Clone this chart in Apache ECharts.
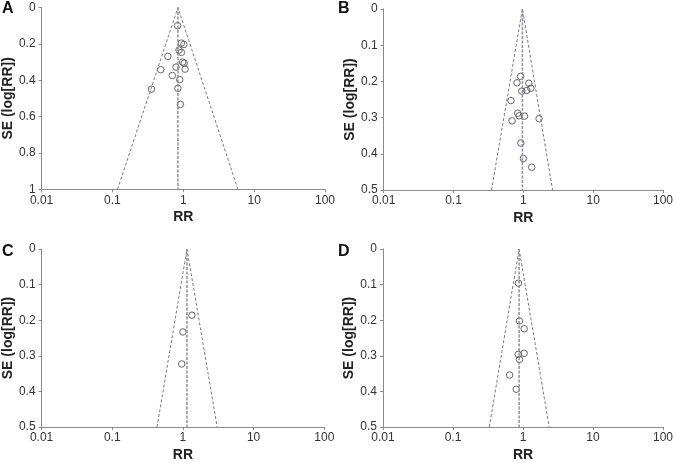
<!DOCTYPE html>
<html>
<head>
<meta charset="utf-8">
<script src="https://cdn.jsdelivr.net/npm/echarts@6/dist/echarts.min.js"></script>
<style>html,body{margin:0;padding:0;background:#fff}#c{width:676px;height:463px}</style>
</head>
<body>
<div id="c"></div>
<script>
// Panel A
var rrA = [0.83, 0.94, 1.02, 0.87, 0.94, 0.605, 0.98, 1.03, 0.79, 1.06, 0.48, 0.70, 0.89, 0.356, 0.84, 0.91];
var seA = [0.10, 0.196, 0.203, 0.234, 0.247, 0.269, 0.300, 0.306, 0.328, 0.339, 0.342, 0.374, 0.397, 0.449, 0.445, 0.533];
var pooledA = 0.84, funnelA = [0.118, 5.9], maxSeA = 1;
// Panel B
var rrB = [0.91, 0.81, 1.20, 1.28, 1.12, 0.95, 0.665, 0.83, 0.87, 1.04, 1.68, 0.69, 0.92, 1.0, 1.32];
var seB = [0.186, 0.204, 0.205, 0.219, 0.225, 0.227, 0.253, 0.288, 0.295, 0.296, 0.303, 0.309, 0.370, 0.413, 0.437];
var pooledB = 0.97, funnelB = [0.35, 2.62], maxSeB = 0.5;
// Panel C
var rrC = [1.34, 1.0, 0.96];
var seC = [0.186, 0.233, 0.323];
var pooledC = 1.14, funnelC = [0.43, 3.05], maxSeC = 0.5;
// Panel D
var rrD = [0.86, 0.89, 1.04, 1.04, 0.855, 0.89, 0.644, 0.80];
var seD = [0.096, 0.202, 0.224, 0.293, 0.296, 0.310, 0.354, 0.394];
var pooledD = 0.88, funnelD = [0.33, 2.37], maxSeD = 0.5;

var xTickLabels = ['0.01', '0.1', '1', '10', '100'];
var yTicksA = ['0', '0.2', '0.4', '0.6', '0.8', '1'];
var yTicksB = ['0', '0.1', '0.2', '0.3', '0.4', '0.5'];
var panelLetters = ['A', 'B', 'C', 'D'];

var FONT = 'Liberation Sans, Arial, sans-serif';
var grids = [
  {left: 40.7, top: 7.5, width: 284.3, height: 181.8},
  {left: 383.7, top: 9, width: 282.3, height: 181},
  {left: 40.3, top: 249, width: 284, height: 181.7},
  {left: 383, top: 249, width: 283, height: 181.7}
];
var panels = [
  {rr: rrA, se: seA, pooled: pooledA, funnel: funnelA, maxSe: maxSeA, ticks: yTicksA, interval: 0.2},
  {rr: rrB, se: seB, pooled: pooledB, funnel: funnelB, maxSe: maxSeB, ticks: yTicksB, interval: 0.1},
  {rr: rrC, se: seC, pooled: pooledC, funnel: funnelC, maxSe: maxSeC, ticks: yTicksB, interval: 0.1},
  {rr: rrD, se: seD, pooled: pooledD, funnel: funnelD, maxSe: maxSeD, ticks: yTicksB, interval: 0.1}
];
var axisColor = '#8a8a8a';
var xAxes = [], yAxes = [], series = [], graphics = [];
panels.forEach(function (p, i) {
  xAxes.push({
    gridIndex: i, type: 'log', logBase: 10, min: 0.01, max: 100, position: 'bottom',
    name: 'RR', nameLocation: 'middle', nameGap: 21,
    nameTextStyle: {fontFamily: FONT, fontWeight: 'bold', fontSize: 14, color: '#222'},
    axisLine: {show: true, onZero: false, lineStyle: {color: axisColor, width: 1}},
    axisTick: {show: true, length: 3, lineStyle: {color: axisColor}},
    minorTick: {show: false},
    splitLine: {show: false},
    axisLabel: {fontFamily: FONT, fontSize: 12, color: '#333', margin: 5,
      formatter: function (v) {
        var k = Math.round(Math.log(v) / Math.LN10) + 2;
        return xTickLabels[k] !== undefined ? xTickLabels[k] : '';
      }}
  });
  yAxes.push({
    gridIndex: i, type: 'value', inverse: true, min: 0, max: p.maxSe, interval: p.interval, position: 'left',
    name: 'SE (log[RR])', nameLocation: 'middle', nameGap: 23, nameRotate: 90,
    nameTextStyle: {fontFamily: FONT, fontWeight: 'bold', fontSize: 14, color: '#222'},
    axisLine: {show: true, onZero: false, lineStyle: {color: axisColor, width: 1}},
    axisTick: {show: true, length: 3, lineStyle: {color: axisColor}},
    splitLine: {show: false},
    axisLabel: {fontFamily: FONT, fontSize: 12, color: '#333', margin: 6,
      formatter: function (v) {
        var k = Math.round(v / p.interval);
        return p.ticks[k] !== undefined ? p.ticks[k] : '';
      }}
  });
  series.push({
    type: 'line', xAxisIndex: i, yAxisIndex: i, symbol: 'none', silent: true,
    data: [[p.funnel[0], p.maxSe], [p.pooled, 0], [p.funnel[1], p.maxSe]],
    lineStyle: {color: '#7a7a7a', width: 1, type: [3, 2]}
  });
  series.push({
    type: 'line', xAxisIndex: i, yAxisIndex: i, symbol: 'none', silent: true,
    data: [[p.pooled, 0], [p.pooled, p.maxSe]],
    lineStyle: {color: '#8c8ca5', width: 1.5, type: [3, 1.5]}
  });
  series.push({
    type: 'scatter', xAxisIndex: i, yAxisIndex: i, symbol: 'circle', symbolSize: 6.5,
    data: p.rr.map(function (r, j) { return [r, p.se[j]]; }),
    itemStyle: {color: 'rgba(255,255,255,0)', borderColor: '#555', borderWidth: 0.9, opacity: 1}
  });
});
var letterPos = [[2, 1], [338, 1], [2, 244], [338, 244]];
panelLetters.forEach(function (L, i) {
  graphics.push({type: 'text', left: letterPos[i][0], top: letterPos[i][1],
    style: {text: L, font: 'bold 16px ' + FONT, fill: '#111'}});
});
var chart = echarts.init(document.getElementById('c'), null, {renderer: 'canvas'});
chart.setOption({
  animation: false,
  backgroundColor: '#fff',
  grid: grids,
  xAxis: xAxes,
  yAxis: yAxes,
  series: series,
  graphic: graphics
});
</script>
</body>
</html>
